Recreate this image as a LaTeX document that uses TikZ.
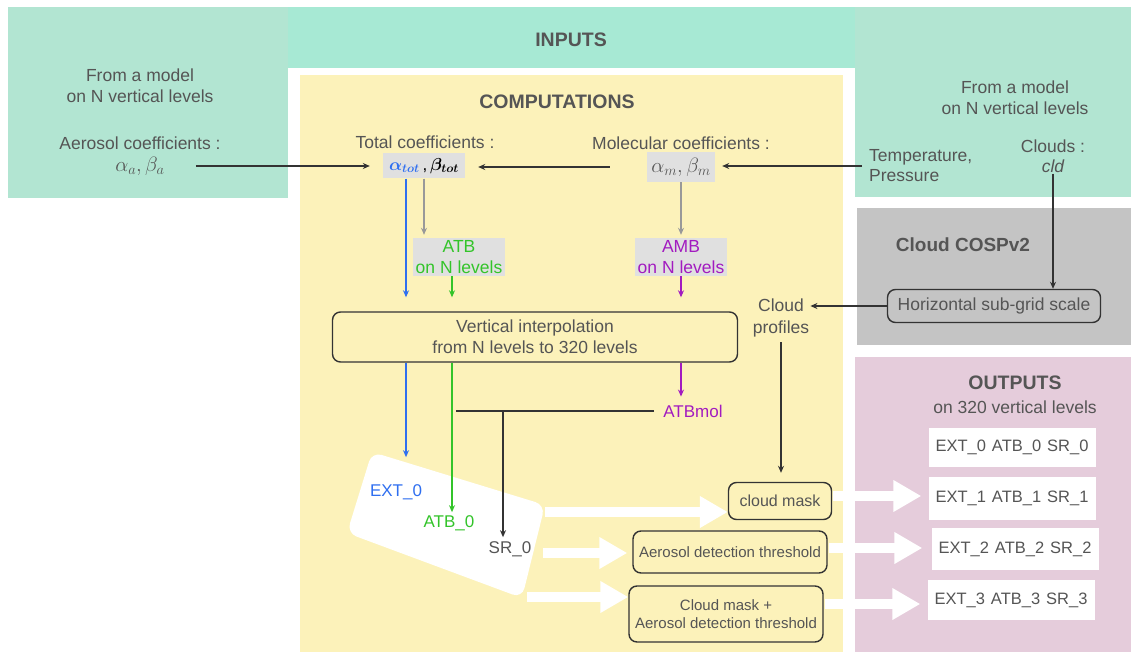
\documentclass[tikz,border=0pt]{standalone}
\usepackage{fontspec}
\setmainfont{Liberation Sans}
\usepackage{amsmath}
\usetikzlibrary{arrows.meta}

\definecolor{inkgray}{HTML}{555555}
\definecolor{lnk}{HTML}{333333}
\definecolor{inbg}{HTML}{B2E5D2}
\definecolor{inband}{HTML}{A7E9D4}
\definecolor{compbg}{HTML}{FCF2BA}
\definecolor{cospbg}{HTML}{C4C4C4}
\definecolor{outbg}{HTML}{E5CCDB}
\definecolor{lblbox}{HTML}{E0E0E0}
\definecolor{aeroblue}{HTML}{2F6FF0}
\definecolor{atbgreen}{HTML}{33C42A}
\definecolor{molpurple}{HTML}{A21BC0}

\begin{document}
\begin{tikzpicture}[x=1pt,y=-1pt,
  lbl/.style={text=inkgray,font=\fontsize{17.5}{21}\selectfont,align=center,inner sep=1pt},
  ttl/.style={text=inkgray,font=\fontsize{19.5}{23}\selectfont\bfseries,inner sep=1pt},
  graybox/.style={lbl,fill=lblbox,inner sep=0pt},
  stepbox/.style={lbl,draw=lnk,line width=1.4pt,rounded corners=8pt,inner sep=0pt},
  outbox/.style={fill=white,minimum width=167pt,inner sep=0pt,text=inkgray,font=\fontsize{16.5}{19}\selectfont},
  arr/.style={line width=1.2pt,-{Stealth[length=7pt,width=6pt]}},
  bigarr/.style={white,line width=10pt,-{Triangle[length=28pt,width=30pt]}}]
\useasboundingbox (0,0) rectangle (1131,652);
% regions
\fill[inbg] (8,7) rectangle (288,198);
\fill[inband] (288,7) rectangle (855,68);
\fill[inbg] (855,7) rectangle (1131,197);
\fill[compbg] (300,75) rectangle (843,652);
\fill[cospbg] (857,208) rectangle (1131,345);
\fill[outbg] (855,357) rectangle (1131,652);
\fill[white,rounded corners=10pt] (372,452) -- (545,505) -- (522,598) -- (347,533) -- cycle;

% inputs
\node[ttl] (inputs) at (571,40) {INPUTS};
\node[lbl] (modelL) at (140,86) {From a model\\on N vertical levels};
\node[lbl] (aerL) at (140,143) {Aerosol coefficients :};
\node[lbl,font=\fontsize{21}{24}\selectfont] (alphaA) at (140,166) {$\alpha_a,\beta_a$};
\node[lbl] (modelR) at (1015,98) {From a model\\on N vertical levels};
\node[lbl,anchor=west,align=left,font=\fontsize{17.5}{20}\selectfont] (temp) at (868,166) {Temperature,\\Pressure};
\node[lbl] (clouds) at (1053,146) {Clouds :};
\node[lbl,font=\fontsize{17.5}{21}\selectfont\itshape] (cld) at (1053,166) {cld};

% computations
\node[ttl] (comp) at (557,102) {COMPUTATIONS};
\node[lbl] (totlab) at (425,142) {Total coefficients :};
\node[graybox,minimum width=82pt,minimum height=25pt,font=\fontsize{17}{20}\selectfont] (tot) at (424,166)
  {$\color{aeroblue}\boldsymbol{\alpha_{tot}}$\,{\color{black},}\,$\color{black}\boldsymbol{\beta_{tot}}$};
\node[lbl] (mollab) at (681,143) {Molecular coefficients :};
\node[graybox,minimum width=68pt,minimum height=30pt,font=\fontsize{21}{24}\selectfont] (mol) at (681,167) {$\alpha_m,\beta_m$};
\node[graybox,minimum width=92pt,minimum height=38pt,text=atbgreen] (atb) at (459,257) {ATB\\on N levels};
\node[graybox,minimum width=92pt,minimum height=38pt,text=molpurple] (amb) at (681,257) {AMB\\on N levels};
\node[stepbox,minimum width=405pt,minimum height=50pt] (interp) at (535,337) {Vertical interpolation\\from N levels to 320 levels};
\node[lbl,text=aeroblue,font=\fontsize{17}{20}\selectfont] (ext0) at (396,492) {EXT\_0};
\node[lbl,text=atbgreen,font=\fontsize{17}{20}\selectfont] (atb0) at (449,523) {ATB\_0};
\node[lbl,font=\fontsize{17}{20}\selectfont] (sr0) at (510,549) {SR\_0};
\node[lbl,text=molpurple,font=\fontsize{17}{20}\selectfont] (atbmol) at (693,411) {ATBmol};
\node[lbl,font=\fontsize{17.5}{22}\selectfont] (cprof) at (781,318) {Cloud\\profiles};
\node[stepbox,minimum width=103pt,minimum height=37pt,font=\fontsize{16}{19}\selectfont] (cmask) at (780,501) {cloud mask};
\node[stepbox,minimum width=194pt,minimum height=42pt,font=\fontsize{15}{18}\selectfont] (adt) at (730,552) {Aerosol detection threshold};
\node[stepbox,minimum width=194pt,minimum height=56pt,font=\fontsize{15}{18}\selectfont] (cmadt) at (726,614) {Cloud mask +\\Aerosol detection threshold};

% cosp
\node[ttl,font=\fontsize{19}{23}\selectfont\bfseries] (cosp) at (963,245) {Cloud COSPv2};
\node[stepbox,minimum width=213pt,minimum height=33pt] (hsg) at (994,306) {Horizontal sub-grid scale};

% outputs
\node[ttl] (outputs) at (1015,383) {OUTPUTS};
\node[lbl] (outsub) at (1015,407) {on 320 vertical levels};
\node[outbox,minimum height=39pt] (o0) at (1012,447) {EXT\_0\hspace{6pt}ATB\_0\hspace{6pt}SR\_0};
\node[outbox,minimum height=43pt] (o1) at (1012,498) {EXT\_1\hspace{6pt}ATB\_1\hspace{6pt}SR\_1};
\node[outbox,minimum height=42pt] (o2) at (1015,549) {EXT\_2\hspace{6pt}ATB\_2\hspace{6pt}SR\_2};
\node[outbox,minimum height=40pt] (o3) at (1011,600) {EXT\_3\hspace{6pt}ATB\_3\hspace{6pt}SR\_3};

% columns
\coordinate (colB) at (406,0);
\coordinate (colG) at (452,0);
\coordinate (colK) at (456,0);
\coordinate (colS) at (503,0);

% links
\draw[arr,lnk,shorten <=30pt,shorten >=13pt] (alphaA.east) -- (tot.west);
\draw[arr,lnk,shorten <=37pt,shorten >=13pt] (mol.west) -- (mol.west -| tot.east);
\draw[arr,lnk,shorten <=6pt,shorten >=7pt] (temp.west) -- (temp.west -| mol.east);
\draw[arr,lnk] (cld.south) -- (hsg.north -| cld.south);
\draw[arr,lnk] (hsg.west) -- (hsg.west -| cprof.east);
\draw[arr,lnk,shorten <=4pt,shorten >=9pt] (cprof.south) -- (cmask.north -| cprof.south);
\draw[arr,aeroblue,shorten >=14pt] (tot.south -| colB) -- (interp.north -| colB);
\draw[arr,gray!80,shorten >=3pt] (tot.south) -- (tot.south |- atb.north);
\draw[arr,atbgreen,shorten >=14pt] (atb.south -| colG) -- (interp.north -| colG);
\draw[arr,gray!80,shorten >=3pt] (mol.south) -- (amb.north);
\draw[arr,molpurple,shorten >=14pt] (amb.south) -- (interp.north -| amb.south);
\draw[arr,aeroblue,shorten >=26pt] (interp.south -| colB) -- (ext0.north -| colB);
\draw[arr,atbgreen,shorten >=2pt] (interp.south -| colG) -- (atb0.north -| colG);
\draw[arr,molpurple,shorten >=7pt] (interp.south -| amb.south) -- (atbmol.north -| amb.south);
\draw[line width=1.2pt,lnk,shorten <=8pt] (atbmol.west) -- (atbmol.west -| colK);
\draw[arr,lnk,shorten >=3pt] (atbmol.west -| colS) -- (sr0.north -| colS);

% white arrows
\coordinate (w1) at (545,512);
\coordinate (w2) at (543,553);
\coordinate (w3) at (527,597);
\draw[bigarr] (w1) -- (w1 -| cmask.west);
\draw[bigarr,shorten >=5pt] (w2) -- (w2 -| adt.west);
\draw[bigarr] (w3) -- (w3 -| cmadt.west);
\draw[bigarr,shorten <=1pt,shorten >=7pt] ([yshift=5pt]cmask.east) -- ([yshift=5pt]cmask.east -| o1.west);
\draw[bigarr,shorten <=1pt,shorten >=9pt] ([yshift=4pt]adt.east) -- ([yshift=4pt]adt.east -| o2.west);
\draw[bigarr,shorten <=1pt,shorten >=7pt] ([yshift=10pt]cmadt.east) -- ([yshift=10pt]cmadt.east -| o3.west);
\end{tikzpicture}
\end{document}
